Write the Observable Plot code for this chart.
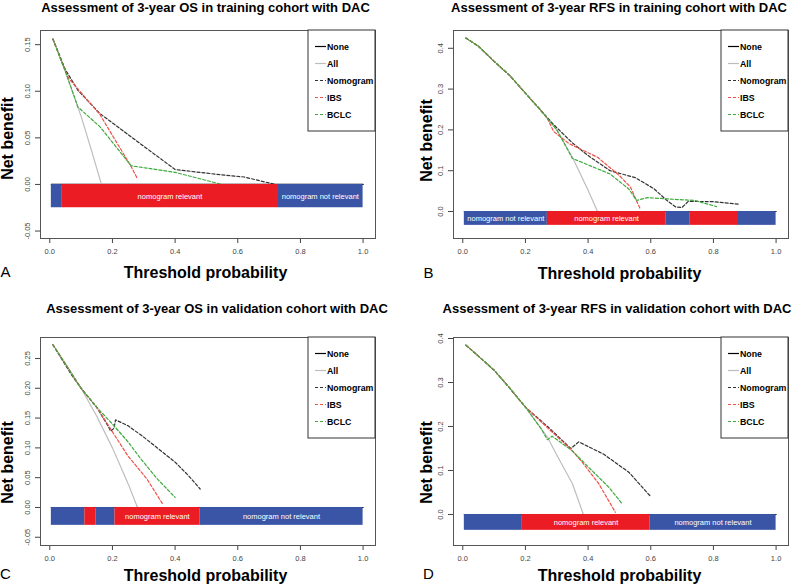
<!DOCTYPE html>
<html><head><meta charset="utf-8">
<script src="https://cdn.jsdelivr.net/npm/d3@7"></script>
<script src="https://cdn.jsdelivr.net/npm/@observablehq/plot@0.6"></script>
<style>
html,body{margin:0;padding:0;background:#fff;}
#chart{position:relative;width:800px;height:584px;overflow:hidden;}
#chart svg{position:absolute;overflow:visible;}
</style></head><body><div id="chart"></div>
<script>
// ---------- shared ----------
const xTicks = [0, 0.2, 0.4, 0.6, 0.8, 1.0];
const seriesNames = ["None", "All", "Nomogram", "IBS", "BCLC"];
const bandText = {rel: "nomogram relevant", notRel: "nomogram not relevant"};

// ---------- A: 3-year OS, training ----------
const titleA = "Assessment of 3-year OS in training cohort with DAC";
const yTicksA = [-0.05, 0, 0.05, 0.10, 0.15];
const noneA = [[0.005, 0], [1, 0]];
const allA = [[0.01, 0.156], [0.05, 0.121], [0.10, 0.073], [0.13, 0.040], [0.165, 0.0]];
const nomA = [[0.01, 0.156], [0.05, 0.123], [0.09, 0.101], [0.16, 0.076], [0.26, 0.051], [0.40, 0.016], [0.53, 0.011], [0.62, 0.008], [0.72, 0.0]];
const ibsA = [[0.01, 0.156], [0.04, 0.130], [0.06, 0.114], [0.16, 0.075], [0.26, 0.019], [0.28, 0.006]];
const bclcA = [[0.01, 0.156], [0.05, 0.121], [0.09, 0.083], [0.16, 0.062], [0.26, 0.020], [0.40, 0.013], [0.55, 0.0]];
const bandA = [
  {x1: 0.005, x2: 0.04, rel: false, label: false},
  {x1: 0.04, x2: 0.727, rel: true, label: true},
  {x1: 0.727, x2: 1.0, rel: false, label: true}
];
const bandBottomA = -0.025;

// ---------- B: 3-year RFS, training ----------
const titleB = "Assessment of 3-year RFS in training cohort with DAC";
const yTicksB = [0, 0.1, 0.2, 0.3, 0.4];
const noneB = [[0.005, 0], [1, 0]];
const allB = [[0.01, 0.425], [0.05, 0.405], [0.10, 0.368], [0.15, 0.333], [0.20, 0.29], [0.25, 0.247], [0.30, 0.20], [0.35, 0.133], [0.40, 0.052], [0.43, 0.0]];
const nomB = [[0.01, 0.425], [0.05, 0.405], [0.10, 0.368], [0.15, 0.333], [0.20, 0.29], [0.25, 0.247], [0.29, 0.213], [0.35, 0.168], [0.40, 0.137], [0.47, 0.10], [0.55, 0.083], [0.61, 0.056], [0.65, 0.028], [0.68, 0.011], [0.70, 0.010], [0.72, 0.025], [0.80, 0.024], [0.88, 0.018]];
const ibsB = [[0.01, 0.425], [0.05, 0.405], [0.10, 0.368], [0.15, 0.333], [0.20, 0.29], [0.25, 0.247], [0.27, 0.228], [0.29, 0.196], [0.34, 0.166], [0.43, 0.133], [0.50, 0.088], [0.535, 0.06], [0.567, 0.005]];
const bclcB = [[0.01, 0.425], [0.05, 0.405], [0.10, 0.368], [0.15, 0.333], [0.20, 0.29], [0.25, 0.247], [0.30, 0.20], [0.35, 0.13], [0.47, 0.092], [0.53, 0.055], [0.555, 0.027], [0.59, 0.034], [0.65, 0.031], [0.74, 0.027], [0.81, 0.012]];
const bandB = [
  {x1: 0.005, x2: 0.27, rel: false, label: true},
  {x1: 0.27, x2: 0.648, rel: true, label: true},
  {x1: 0.648, x2: 0.726, rel: false, label: false},
  {x1: 0.726, x2: 0.88, rel: true, label: false},
  {x1: 0.88, x2: 1.0, rel: false, label: false}
];
const bandBottomB = -0.034;

// ---------- C: 3-year OS, validation ----------
const titleC = "Assessment of 3-year OS in validation cohort with DAC";
const yTicksC = [-0.05, 0, 0.05, 0.10, 0.15, 0.20, 0.25];
const noneC = [[0.005, 0], [1, 0]];
const allC = [[0.01, 0.273], [0.05, 0.242], [0.10, 0.20], [0.15, 0.153], [0.20, 0.10], [0.25, 0.04], [0.28, 0.0]];
const nomC = [[0.01, 0.273], [0.07, 0.222], [0.10, 0.20], [0.15, 0.168], [0.18, 0.142], [0.195, 0.128], [0.205, 0.133], [0.21, 0.147], [0.25, 0.137], [0.30, 0.118], [0.35, 0.097], [0.40, 0.076], [0.44, 0.055], [0.48, 0.031]];
const ibsC = [[0.01, 0.273], [0.10, 0.20], [0.15, 0.168], [0.20, 0.127], [0.25, 0.086], [0.31, 0.048], [0.36, 0.006]];
const bclcC = [[0.01, 0.273], [0.10, 0.20], [0.15, 0.168], [0.20, 0.14], [0.25, 0.11], [0.29, 0.082], [0.343, 0.048], [0.40, 0.017]];
const bandC = [
  {x1: 0.005, x2: 0.112, rel: false, label: false},
  {x1: 0.112, x2: 0.147, rel: true, label: false},
  {x1: 0.147, x2: 0.208, rel: false, label: false},
  {x1: 0.208, x2: 0.479, rel: true, label: true},
  {x1: 0.479, x2: 1.0, rel: false, label: true}
];
const bandBottomC = -0.030;

// ---------- D: 3-year RFS, validation ----------
const titleD = "Assessment of 3-year RFS in validation cohort with DAC";
const yTicksD = [0, 0.1, 0.2, 0.3, 0.4];
const noneD = [[0.005, 0], [1, 0]];
const allD = [[0.01, 0.385], [0.05, 0.36], [0.10, 0.328], [0.15, 0.287], [0.20, 0.244], [0.25, 0.195], [0.27, 0.176], [0.30, 0.135], [0.35, 0.07], [0.385, 0.0]];
const nomD = [[0.01, 0.385], [0.05, 0.36], [0.10, 0.328], [0.15, 0.287], [0.20, 0.244], [0.275, 0.197], [0.345, 0.15], [0.37, 0.165], [0.45, 0.137], [0.53, 0.096], [0.597, 0.043]];
const ibsD = [[0.01, 0.385], [0.05, 0.36], [0.10, 0.328], [0.15, 0.287], [0.20, 0.244], [0.275, 0.194], [0.344, 0.149], [0.38, 0.12], [0.434, 0.07], [0.487, 0.005]];
const bclcD = [[0.01, 0.385], [0.05, 0.36], [0.10, 0.328], [0.15, 0.287], [0.20, 0.244], [0.25, 0.195], [0.27, 0.17], [0.285, 0.178], [0.349, 0.145], [0.402, 0.107], [0.466, 0.062], [0.509, 0.024]];
const bandD = [
  {x1: 0.005, x2: 0.19, rel: false, label: false},
  {x1: 0.19, x2: 0.597, rel: true, label: true},
  {x1: 0.597, x2: 1.0, rel: false, label: true}
];
const bandBottomD = -0.036;

// ---------- styles ----------
const FONT = '"Liberation Sans", Arial, Helvetica, sans-serif';
const BLUE = "#3a55a6", RED = "#ec1c24";
const seriesStyle = {
  None: {stroke: "#000000", dash: null},
  All: {stroke: "#bdbdbd", dash: null},
  Nomogram: {stroke: "#333333", dash: "3,2"},
  IBS: {stroke: "#f0504a", dash: "3,2"},
  BCLC: {stroke: "#3daa3d", dash: "3,2"}
};

const panels = [
  {id: "A", title: titleA, yTicks: yTicksA, digits: 2, series: [noneA, allA, nomA, ibsA, bclcA], band: bandA, bandBottom: bandBottomA,
   left: 0, top: 0, mL: 40, mR: 25, mT: 30, mB: 54, yDomain: [-0.058, 0.1652],
   tDx: -2.5, tDy: -22.7, ylDx: -33, ylDy: 4, xlDx: -2.5, xlDy: 34, lDx: -35, lDy: 34},
  {id: "B", title: titleB, yTicks: yTicksB, digits: 1, series: [noneB, allB, nomB, ibsB, bclcB], band: bandB, bandBottom: bandBottomB,
   left: 400, top: 0, mL: 53, mR: 12, mT: 30, mB: 54, yDomain: [-0.0662, 0.4436],
   tDx: -2, tDy: -22.7, ylDx: -27, ylDy: 6, xlDx: -1.5, xlDy: 35, lDx: -25, lDy: 35},
  {id: "C", title: titleC, yTicks: yTicksC, digits: 2, series: [noneC, allC, nomC, ibsC, bclcC], band: bandC, bandBottom: bandBottomC,
   left: 0, top: 292, mL: 40, mR: 25, mT: 45, mB: 39, yDomain: [-0.0638, 0.2852],
   tDx: 9, tDy: -28.7, ylDx: -33, ylDy: 21, xlDx: -2.5, xlDy: 30, lDx: -35, lDy: 29},
  {id: "D", title: titleD, yTicks: yTicksD, digits: 1, series: [noneD, allD, nomD, ibsD, bclcD], band: bandD, bandBottom: bandBottomD,
   left: 400, top: 292, mL: 53, mR: 12, mT: 45, mB: 39, yDomain: [-0.0705, 0.4023],
   tDx: -4, tDy: -28.7, ylDx: -27, ylDy: 21, xlDx: -1.5, xlDy: 30, lDx: -25, lDy: 29}
];

const chart = document.getElementById("chart");

for (const p of panels) {
  const W = 400, H = 292;
  const lineMarks = p.series.map((pts, i) => {
    const st = seriesStyle[seriesNames[i]];
    return Plot.line(pts, {x: d => d[0], y: d => d[1], stroke: st.stroke, strokeWidth: 1.2,
      strokeDasharray: st.dash || undefined});
  });
  const svg = Plot.plot({
    width: W, height: H,
    marginLeft: p.mL, marginRight: p.mR, marginTop: p.mT, marginBottom: p.mB,
    x: {domain: [-0.0296, 1.0396]},
    y: {domain: p.yDomain},
    style: {fontFamily: FONT, fontSize: "7.5px", color: "#444", background: "transparent", overflow: "visible"},
    marks: [
      Plot.axisX({ticks: xTicks, tickSize: 5, tickPadding: 5, tickFormat: d => d.toFixed(1), label: null}),
      Plot.axisY({ticks: p.yTicks, tickSize: 5, tickFormat: () => "", label: null}),
      Plot.text(p.yTicks, {y: d => d, text: d => d.toFixed(p.digits), frameAnchor: "left", dx: -13,
        rotate: -90, textAnchor: "middle", lineAnchor: "middle", fill: "#444"}),
      ...lineMarks,
      Plot.rect(p.band.filter(d => !d.rel), {x1: "x1", x2: "x2", y1: () => p.bandBottom, y2: () => 0, fill: BLUE}),
      Plot.rect(p.band.filter(d => d.rel), {x1: "x1", x2: "x2", y1: () => p.bandBottom, y2: () => 0, fill: RED}),
      Plot.text(p.band.filter(d => d.label), {x: d => (d.x1 + d.x2) / 2, y: () => p.bandBottom / 2,
        text: d => d.rel ? bandText.rel : bandText.notRel, fill: "white", fontSize: 7.5,
        textAnchor: "middle", lineAnchor: "middle"}),
      Plot.frame({stroke: "#555", strokeWidth: 1}),
      Plot.text([p.title], {text: d => d, frameAnchor: "top", dx: p.tDx, dy: p.tDy, fontSize: 13,
        fontWeight: "bold", fill: "#000", textAnchor: "middle", lineAnchor: "middle"}),
      Plot.text(["Net benefit"], {text: d => d, frameAnchor: "left", dx: p.ylDx, dy: p.ylDy, rotate: -90,
        fontSize: 16, fontWeight: "bold", fill: "#000", textAnchor: "middle", lineAnchor: "middle"}),
      Plot.text(["Threshold probability"], {text: d => d, frameAnchor: "bottom", dx: p.xlDx, dy: p.xlDy,
        fontSize: 16, fontWeight: "bold", fill: "#000", textAnchor: "middle", lineAnchor: "middle"}),
      Plot.text([p.id], {text: d => d, frameAnchor: "bottom-left", dx: p.lDx, dy: p.lDy,
        fontSize: 15, fill: "#000", textAnchor: "middle", lineAnchor: "middle"})
    ]
  });
  svg.style.left = p.left + "px";
  svg.style.top = p.top + "px";

  // legend (top-right inside the frame)
  const boxW = 67, boxH = 101;
  const bx = W - p.mR - boxW, by = p.mT;
  const g = d3.select(svg).append("g").attr("font-family", FONT).attr("text-anchor", "start");
  g.append("rect").attr("x", bx).attr("y", by).attr("width", boxW).attr("height", boxH)
    .attr("fill", "white").attr("stroke", "#333").attr("stroke-width", 1);
  seriesNames.forEach((name, i) => {
    const st = seriesStyle[name];
    const yy = by + 16.5 + i * 17;
    g.append("line").attr("x1", bx + 7).attr("x2", bx + 18).attr("y1", yy).attr("y2", yy)
      .attr("stroke", st.stroke).attr("stroke-width", 1.2)
      .attr("stroke-dasharray", st.dash);
    g.append("text").attr("x", bx + 19).attr("y", yy).attr("dy", "0.35em")
      .attr("text-anchor", "start")
      .attr("font-size", 8.8).attr("font-weight", "bold").attr("fill", "#000").text(name);
  });

  chart.appendChild(svg);
}
</script>
</body></html>
